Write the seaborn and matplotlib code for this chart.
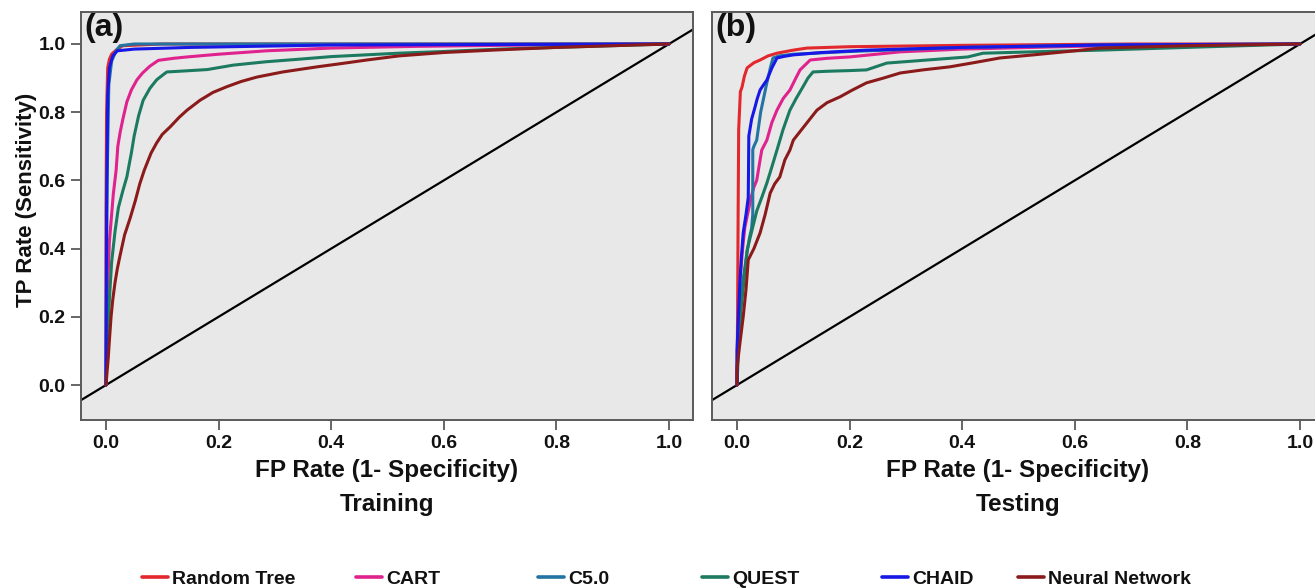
import matplotlib
matplotlib.use("Agg")
import matplotlib.pyplot as plt
import seaborn as sns
import pandas as pd
from matplotlib.font_manager import FontProperties
from matplotlib.lines import Line2D

# ---------------- data ----------------
models = ["Random Tree", "CART", "C5.0", "QUEST", "CHAID", "Neural Network"]
colors = ["#e2282d", "#e0228f", "#2373a3", "#1b7a60", "#1717e6", "#8b1a1a"]
panel_titles = ["Training", "Testing"]
panel_tags = ["(a)", "(b)"]
x_ticks = [0.0, 0.2, 0.4, 0.6, 0.8, 1.0]
y_ticks = [0.0, 0.2, 0.4, 0.6, 0.8, 1.0]

# Training
rt_train_fpr = [0, 0.0, 0.001, 0.003, 0.006, 0.01, 0.02, 0.03, 0.1, 1.0]
rt_train_tpr = [0, 0.5, 0.8, 0.93, 0.955, 0.97, 0.985, 0.995, 1.0, 1.0]
cart_train_fpr = [0, 0.001, 0.002, 0.004, 0.006, 0.01, 0.013, 0.018, 0.021, 0.025, 0.03, 0.037, 0.045,
                  0.055, 0.065, 0.078, 0.093, 0.12, 0.144, 0.2, 0.285, 0.4, 0.55, 0.7, 0.85, 1.0]
cart_train_tpr = [0, 0.1, 0.2, 0.33, 0.42, 0.5, 0.56, 0.63, 0.7, 0.74, 0.78, 0.83, 0.865,
                  0.895, 0.915, 0.935, 0.952, 0.958, 0.962, 0.97, 0.98, 0.988, 0.993, 0.996, 0.998, 1.0]
c50_train_fpr = [0, 0.002, 0.005, 0.01, 0.018, 0.025, 0.05, 1.0]
c50_train_tpr = [0, 0.6, 0.88, 0.95, 0.98, 0.995, 1.0, 1.0]
quest_train_fpr = [0, 0.002, 0.004, 0.006, 0.01, 0.016, 0.022, 0.03, 0.037, 0.045, 0.05, 0.058, 0.066,
                   0.078, 0.09, 0.1, 0.108, 0.14, 0.18, 0.226, 0.285, 0.34, 0.4, 0.52, 0.6, 0.7, 0.8, 0.9, 1.0]
quest_train_tpr = [0, 0.1, 0.18, 0.25, 0.36, 0.45, 0.52, 0.57, 0.61, 0.68, 0.73, 0.79, 0.835,
                   0.87, 0.895, 0.908, 0.918, 0.921, 0.925, 0.938, 0.948, 0.955, 0.963, 0.973, 0.978, 0.985, 0.99, 0.995, 1.0]
chaid_train_fpr = [0, 0.001, 0.003, 0.006, 0.012, 0.02, 0.05, 0.15, 0.4, 1.0]
chaid_train_tpr = [0, 0.5, 0.85, 0.93, 0.965, 0.98, 0.985, 0.99, 0.997, 1.0]
nn_train_fpr = [0, 0.002, 0.004, 0.006, 0.009, 0.012, 0.016, 0.02, 0.025, 0.033, 0.043, 0.052, 0.06, 0.068,
                0.08, 0.09, 0.1, 0.114, 0.13, 0.144, 0.167, 0.19, 0.215, 0.24, 0.268, 0.314, 0.375, 0.42,
                0.463, 0.52, 0.6, 0.7, 0.8, 0.9, 1.0]
nn_train_tpr = [0, 0.04, 0.08, 0.13, 0.2, 0.25, 0.3, 0.34, 0.38, 0.44, 0.49, 0.54, 0.59, 0.63,
                0.68, 0.71, 0.735, 0.757, 0.785, 0.806, 0.835, 0.858, 0.875, 0.89, 0.903, 0.918, 0.933, 0.943,
                0.953, 0.965, 0.975, 0.983, 0.99, 0.995, 1.0]

# Testing
rt_test_fpr = [0, 0.001, 0.002, 0.003, 0.006, 0.009, 0.013, 0.018, 0.03, 0.041, 0.055, 0.071, 0.1, 0.124,
               0.2, 0.4, 0.7, 1.0]
rt_test_tpr = [0, 0.2, 0.5, 0.75, 0.86, 0.874, 0.905, 0.93, 0.945, 0.953, 0.965, 0.973, 0.982, 0.988,
               0.992, 0.996, 1.0, 1.0]
cart_test_fpr = [0, 0.002, 0.005, 0.01, 0.014, 0.02, 0.025, 0.03, 0.035, 0.04, 0.044, 0.053, 0.062, 0.071,
                 0.082, 0.094, 0.103, 0.112, 0.13, 0.16, 0.2, 0.29, 0.4, 0.6, 0.8, 1.0]
cart_test_tpr = [0, 0.15, 0.3, 0.4, 0.463, 0.51, 0.55, 0.58, 0.6, 0.65, 0.689, 0.718, 0.77, 0.806,
                 0.84, 0.865, 0.895, 0.924, 0.953, 0.958, 0.962, 0.977, 0.985, 0.993, 0.997, 1.0]
c50_test_fpr = [0, 0.001, 0.004, 0.01, 0.018, 0.022, 0.026, 0.028, 0.028, 0.03, 0.035, 0.042, 0.053, 0.06,
                0.064, 0.075, 0.1, 0.2, 0.4, 0.645, 1.0]
c50_test_tpr = [0, 0.1, 0.2, 0.3, 0.39, 0.43, 0.46, 0.5, 0.69, 0.7, 0.718, 0.8, 0.886, 0.935,
                0.959, 0.965, 0.97, 0.978, 0.99, 0.997, 1.0]
quest_test_fpr = [0, 0.003, 0.007, 0.012, 0.018, 0.023, 0.028, 0.035, 0.044, 0.053, 0.062, 0.071, 0.082,
                  0.094, 0.105, 0.117, 0.126, 0.135, 0.16, 0.2, 0.23, 0.266, 0.33, 0.41, 0.437, 0.55, 0.645,
                  0.8, 1.0]
quest_test_tpr = [0, 0.12, 0.22, 0.3, 0.396, 0.43, 0.463, 0.51, 0.55, 0.592, 0.64, 0.689, 0.75,
                  0.806, 0.84, 0.874, 0.9, 0.918, 0.92, 0.922, 0.924, 0.944, 0.952, 0.962, 0.973, 0.978, 0.982,
                  0.99, 1.0]
chaid_test_fpr = [0, 0.0, 0.003, 0.005, 0.008, 0.011, 0.016, 0.02, 0.021, 0.026, 0.032, 0.036, 0.041, 0.047,
                  0.053, 0.062, 0.071, 0.085, 0.1, 0.15, 0.23, 0.4, 0.645, 1.0]
chaid_test_tpr = [0, 0.1, 0.22, 0.3, 0.38, 0.446, 0.5, 0.55, 0.73, 0.78, 0.815, 0.84, 0.865, 0.88,
                  0.894, 0.93, 0.959, 0.964, 0.968, 0.975, 0.982, 0.99, 0.997, 1.0]
nn_test_fpr = [0, 0.0, 0.005, 0.011, 0.016, 0.02, 0.03, 0.041, 0.05, 0.059, 0.067, 0.076, 0.085, 0.094, 0.1,
               0.12, 0.142, 0.16, 0.183, 0.205, 0.23, 0.26, 0.29, 0.33, 0.378, 0.42, 0.467, 0.526, 0.6,
               0.645, 0.8, 1.0]
nn_test_tpr = [0, 0.05, 0.12, 0.2, 0.28, 0.367, 0.4, 0.446, 0.5, 0.563, 0.59, 0.61, 0.66, 0.689, 0.718,
               0.76, 0.806, 0.828, 0.845, 0.865, 0.886, 0.9, 0.915, 0.924, 0.933, 0.945, 0.959, 0.968, 0.98,
               0.988, 0.995, 1.0]

train_curves = [(rt_train_fpr, rt_train_tpr), (cart_train_fpr, cart_train_tpr), (c50_train_fpr, c50_train_tpr),
                (quest_train_fpr, quest_train_tpr), (chaid_train_fpr, chaid_train_tpr), (nn_train_fpr, nn_train_tpr)]
test_curves = [(rt_test_fpr, rt_test_tpr), (cart_test_fpr, cart_test_tpr), (c50_test_fpr, c50_test_tpr),
               (quest_test_fpr, quest_test_tpr), (chaid_test_fpr, chaid_test_tpr), (nn_test_fpr, nn_test_tpr)]


def to_frame(curves):
    rows = []
    for name, (f, t) in zip(models, curves):
        for fx, ty in zip(f, t):
            rows.append({"model": name, "fpr": fx, "tpr": ty})
    return pd.DataFrame(rows)


# ---------------- style ----------------
sns.set_theme(style="white")
plt.rcParams["font.family"] = ["Liberation Sans", "DejaVu Sans"]
plt.rcParams["font.weight"] = "bold"

W, H = 1315, 588
fig = plt.figure(figsize=(W / 100, H / 100), dpi=100)
fig.patch.set_facecolor("white")

ax_left = [81, 712]
ax_w = 612
ax_top, ax_bot = 12, 420
axes = [fig.add_axes([l / W, 1 - ax_bot / H, ax_w / W, (ax_bot - ax_top) / H]) for l in ax_left]

palette = dict(zip(models, colors))
frame_color = "#5a5a5a"
text_color = "#111111"

for k, (ax, curves) in enumerate(zip(axes, [train_curves, test_curves])):
    ax.set_facecolor("#e8e8e8")
    df = to_frame(curves)
    ax.axline((0, 0), slope=1, color="black", lw=1.6, zorder=1)
    sns.lineplot(data=df, x="fpr", y="tpr", hue="model", hue_order=models, palette=palette,
                 sort=False, estimator=None, lw=2.2, ax=ax, legend=False, zorder=3)
    ax.set_xlim(-0.0444, 1.0426)
    ax.set_ylim(-0.1026, 1.0938)
    ax.set_xticks(x_ticks)
    ax.set_yticks(y_ticks)
    ax.set_xticklabels([f"{v:.1f}" for v in x_ticks], fontsize=14, fontweight="bold")
    ax.set_yticklabels([f"{v:.1f}" for v in y_ticks], fontsize=14, fontweight="bold")
    ax.tick_params(axis="both", direction="out", length=7, width=1.3, color=frame_color,
                   bottom=True, left=True, pad=4, labelcolor=text_color)
    for s in ax.spines.values():
        s.set_color(frame_color)
        s.set_linewidth(1.4)
    ax.set_xlabel("FP Rate (1- Specificity)\n" + panel_titles[k], fontsize=17.5, fontweight="bold",
                  linespacing=1.6, labelpad=5, color=text_color)
    if k == 0:
        ax.set_ylabel("TP Rate (Sensitivity)", fontsize=16, fontweight="bold", color=text_color)
        ax.yaxis.set_label_coords(-0.072, 0.539)
    else:
        ax.set_ylabel("")
        ax.tick_params(axis="y", left=False, labelleft=False)
    ax.text(0.006, 0.997, panel_tags[k], transform=ax.transAxes, ha="left", va="top",
            fontsize=23, fontweight="bold", color=text_color)

# legend: one entry per position along the bottom
legend_x = [142, 356, 538, 702, 882, 1018]
leg_font = FontProperties(family=["Liberation Sans", "DejaVu Sans"], weight="bold", size=14)
for name, c, xpix in zip(models, colors, legend_x):
    leg = fig.legend([Line2D([0], [0], color=c, lw=2.6)], [name], loc="center left",
                     bbox_to_anchor=(xpix / W, 1 - 579 / H), frameon=False, borderaxespad=0,
                     borderpad=0, handlelength=1.35, handletextpad=0.2, prop=leg_font)
    for t in leg.get_texts():
        t.set_color(text_color)

fig.savefig("out.png", dpi=100, facecolor="white")
